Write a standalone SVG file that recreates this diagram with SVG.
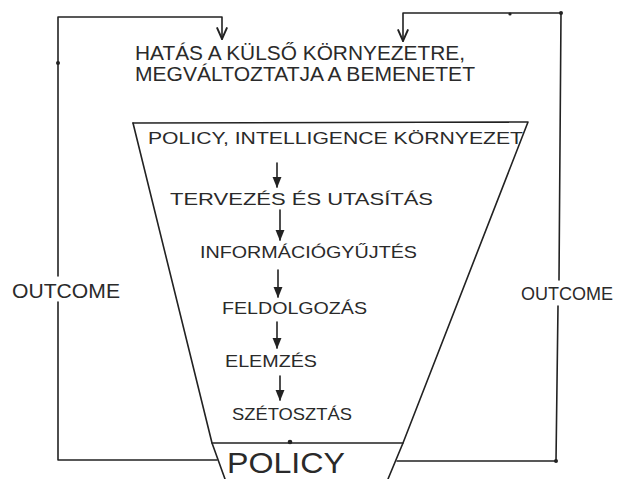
<svg xmlns="http://www.w3.org/2000/svg" width="619" height="479" viewBox="0 0 619 479">
<defs>
<marker id="ah" viewBox="0 0 10 10" refX="9" refY="5" markerWidth="7" markerHeight="7" orient="auto">
<path d="M0,1 L10,5 L0,9 z" fill="#222"/>
</marker>
<marker id="av" viewBox="0 0 10 10" refX="9" refY="5" markerWidth="8" markerHeight="8" orient="auto">
<path d="M0,1 L9,5 L0,9" fill="none" stroke="#222" stroke-width="1.5"/>
</marker>
<style>
.ln{stroke:#222;stroke-width:1.6;fill:none;stroke-linecap:round;stroke-linejoin:round}
.t{font-family:"Liberation Sans","DejaVu Sans",sans-serif;fill:#2a2a2a;font-size:17px}
.big{font-size:20px}
.pol{font-size:30px}
.out{font-size:21px}
.outr{font-size:18px}
.dot{fill:#222}
</style>
</defs>
<rect width="619" height="479" fill="#ffffff"/>

<g id="connectors">
<polyline class="ln" points="217,460 58,460 58,302"/>
<polyline class="ln" points="58,276 58,17 222,17 222,39" marker-end="url(#av)"/>
<polyline class="ln" points="397,461 556,461 558,306"/>
<polyline class="ln" points="559,280 561,13 403,13 403,41" marker-end="url(#av)"/>
<circle class="dot" cx="58" cy="63" r="2"/>
<circle class="dot" cx="561" cy="13" r="2"/>
<circle class="dot" cx="510" cy="14" r="1.6"/>
<circle class="dot" cx="556" cy="461" r="2"/>
<line class="ln" x1="277" y1="163" x2="277" y2="187" marker-end="url(#ah)"/>
<line class="ln" x1="280" y1="210" x2="280" y2="240" marker-end="url(#ah)"/>
<line class="ln" x1="278" y1="270" x2="278" y2="297" marker-end="url(#ah)"/>
<line class="ln" x1="277" y1="322" x2="277" y2="348" marker-end="url(#ah)"/>
<line class="ln" x1="280" y1="376" x2="280" y2="400" marker-end="url(#ah)"/>
</g>

<g id="note">
<text class="t big" x="135" y="60" textLength="330" lengthAdjust="spacingAndGlyphs">HATÁS A KÜLSŐ KÖRNYEZETRE,</text>
<text class="t big" x="135" y="81" textLength="340" lengthAdjust="spacingAndGlyphs">MEGVÁLTOZTATJA A BEMENETET</text>
</g>

<g id="funnel">
<polyline class="ln" points="133,123 528,122 403,443 388,479"/>
<polyline class="ln" points="133,123 212,443 225,479"/>
<line class="ln" x1="212" y1="443" x2="403" y2="443"/>
<circle class="dot" cx="290" cy="442" r="2.3"/>
</g>

<g id="n1"><text class="t" x="148" y="144" textLength="375" lengthAdjust="spacingAndGlyphs">POLICY, INTELLIGENCE KÖRNYEZET</text></g>
<g id="n2"><text class="t" x="170" y="205" textLength="263" lengthAdjust="spacingAndGlyphs">TERVEZÉS ÉS UTASÍTÁS</text></g>
<g id="n3"><text class="t" x="200" y="258" textLength="217" lengthAdjust="spacingAndGlyphs">INFORMÁCIÓGYŰJTÉS</text></g>
<g id="n4"><text class="t" x="222" y="314" textLength="145" lengthAdjust="spacingAndGlyphs">FELDOLGOZÁS</text></g>
<g id="n5"><text class="t" x="225" y="367" textLength="92" lengthAdjust="spacingAndGlyphs">ELEMZÉS</text></g>
<g id="n6"><text class="t" x="232" y="420" textLength="120" lengthAdjust="spacingAndGlyphs">SZÉTOSZTÁS</text></g>
<g id="policy"><text class="t pol" x="227" y="473" textLength="118" lengthAdjust="spacingAndGlyphs">POLICY</text></g>
<g id="outcome-left"><text class="t out" x="12" y="298" textLength="108" lengthAdjust="spacingAndGlyphs">OUTCOME</text></g>
<g id="outcome-right"><text class="t outr" x="521" y="300" textLength="92" lengthAdjust="spacingAndGlyphs">OUTCOME</text></g>
</svg>
